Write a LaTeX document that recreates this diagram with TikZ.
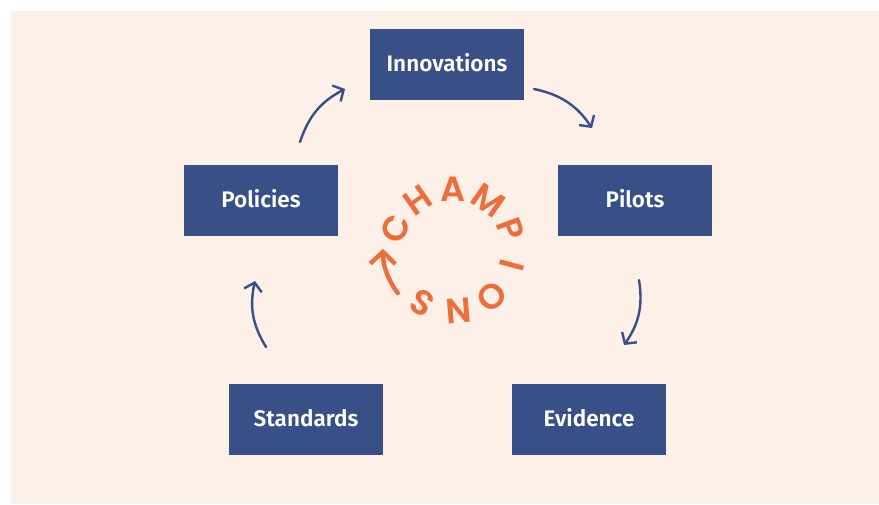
\documentclass[tikz,border=0pt]{standalone}
\usepackage{fontspec}
\setmainfont{Fira Sans}[BoldFont={Fira Sans SemiBold}]
\newfontfamily\champfont{Poppins}[BoldFont={Poppins SemiBold}]
\usetikzlibrary{arrows.meta,calc}
\definecolor{bgc}{RGB}{252,240,232}
\definecolor{boxc}{RGB}{56,79,135}
\definecolor{orc}{RGB}{236,110,58}
\tikzset{
  stage/.style={fill=boxc, minimum width=154pt, minimum height=71pt, inner sep=0pt,
    text=white, font=\fontsize{22.5}{26}\selectfont\bfseries},
  flow/.style={draw=boxc, line width=2.4pt, line cap=round,
    -{Straight Barb[length=8pt,width=18pt,line width=2.4pt]}, bend left=22},
  letter/.style={text=orc, font=\champfont\fontsize{35}{38}\selectfont\bfseries, inner sep=0pt}
}
\begin{document}
\begin{tikzpicture}[x=1pt,y=1pt]
\useasboundingbox (0,0) rectangle (879,-504);
\fill[bgc] (11,-11) rectangle (879,-504);
\node[stage] (inn) at (447,-64.5) {\raisebox{3.5pt}{Innovations}};
\node[stage] (pol) at (261,-200.5) {\raisebox{3.5pt}{Policies}};
\node[stage] (pil) at (635,-200.5) {\raisebox{3.5pt}{Pilots}};
\node[stage] (sta) at (306,-419.5) {\raisebox{3.5pt}{Standards}};
\node[stage] (evi) at (589,-419.5) {\raisebox{3.5pt}{Evidence}};
\coordinate (a1) at (300,-142); \coordinate (b1) at (345,-89);
\coordinate (a2) at (534,-89);  \coordinate (b2) at (592,-128);
\coordinate (a3) at (639,-280); \coordinate (b3) at (624,-345);
\coordinate (a4) at (266,-347); \coordinate (b4) at (255,-281);
\draw[flow] (a1) to (b1);
\draw[flow] (a2) to (b2);
\draw[flow] (a3) to (b3);
\draw[flow] (a4) to (b4);
\coordinate (cc) at (453,-250);
\foreach \ch [count=\i from 0] in {C,H,A,M,P,I,O,N,S}{
  \pgfmathsetmacro\ang{160-35*\i}
  \node[letter, rotate=\ang-90] (l\i) at ([shift={(\ang:61)}]cc) {\ch};
}
\coordinate (ca) at ([shift={(-142:70)}]cc);
\draw[orc, line width=4.4pt, line cap=round, -{Straight Barb[length=12pt,width=25pt,line width=4.4pt]}]
  (ca) arc[start angle=-142, end angle=-181, radius=70];
\end{tikzpicture}
\end{document}
